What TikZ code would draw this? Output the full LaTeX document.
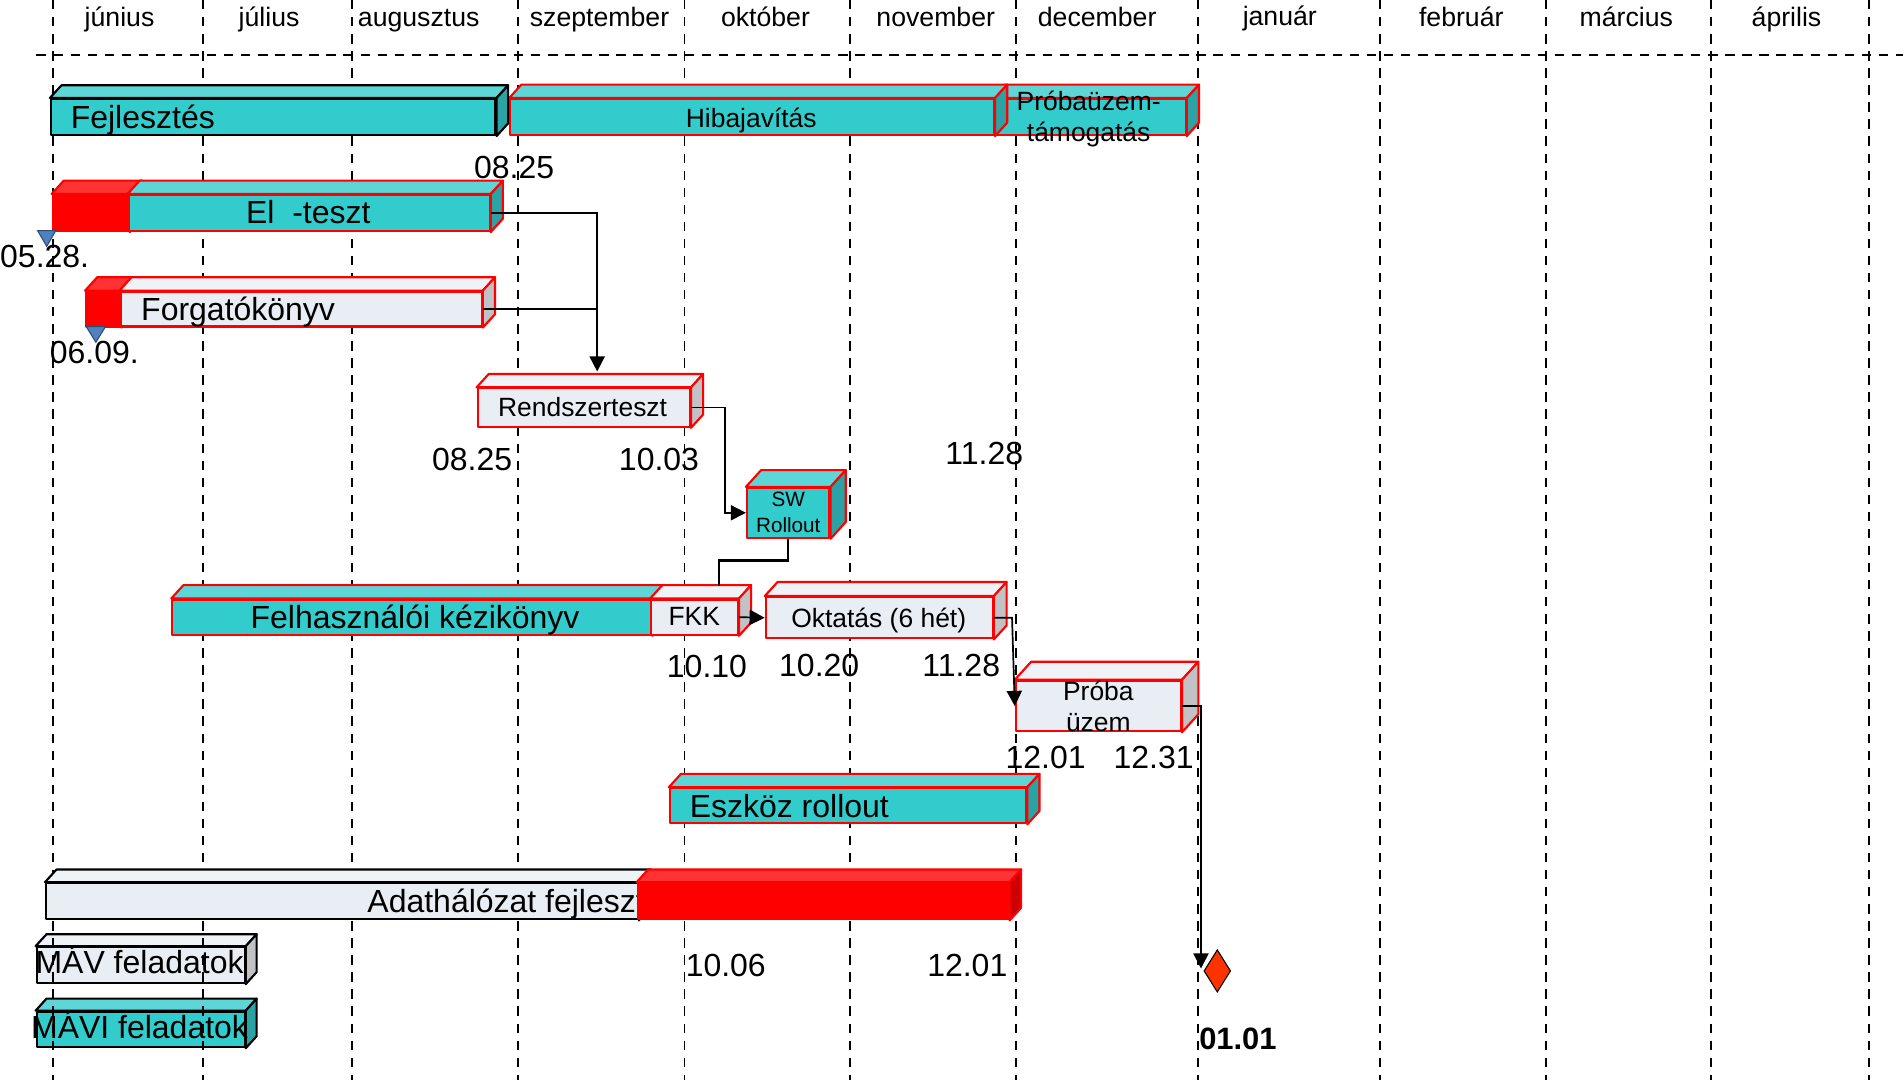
\documentclass[tikz,border=0pt]{standalone}
\usepackage{fontspec}
\setmainfont{Liberation Sans}
\usepackage{tikz}
\usetikzlibrary{calc,fit,arrows.meta,shapes.geometric}
\definecolor{tealF}{HTML}{33CCCC}
\definecolor{tealT}{HTML}{5CD6D6}
\definecolor{tealS}{HTML}{29A3A3}
\definecolor{lightF}{HTML}{E9EDF4}
\definecolor{lightT}{HTML}{EFF2F7}
\definecolor{lightS}{HTML}{C0C2C6}
\definecolor{redF}{HTML}{FF0000}
\definecolor{redT}{HTML}{FF3333}
\definecolor{redS}{HTML}{CC0000}
\definecolor{msred}{HTML}{FF3300}
\definecolor{mkblue}{HTML}{4F81BD}
\definecolor{mkline}{HTML}{2C4D75}
% name, front nw, front se, colour set, outline, depth
\newcommand{\ganttbox}[6]{%
  \node[box,fit={(#2)(#3)},inner sep=0pt,draw=#5,fill=#4F] (#1) {};
  \filldraw[box,draw=#5,fill=#4T] (#1.north west) -- ++(#6,-1.1*#6) -- ($(#1.north east)+(#6,-1.1*#6)$) -- (#1.north east) -- cycle;
  \filldraw[box,draw=#5,fill=#4S] (#1.north east) -- ++(#6,-1.1*#6) -- ($(#1.south east)+(#6,-1.1*#6)$) -- (#1.south east) -- cycle;}

\begin{document}
\begin{tikzpicture}[x=0.02cm,y=-0.02cm,
    box/.style={line width=1pt,line join=round},
    grid/.style={line width=0.9pt,dash pattern=on 4.4pt off 3.6pt},
    month/.style={font=\fontsize{12.5}{15}\selectfont,anchor=base,inner sep=0pt},
    big/.style={font=\fontsize{15}{18}\selectfont,anchor=base west,inner sep=0pt},
    mid/.style={font=\fontsize{12.4}{14.8}\selectfont,align=center,inner sep=0pt},
    small/.style={font=\fontsize{9.7}{12}\selectfont,align=center,inner sep=0pt},
    mav/.style={font=\fontsize{15}{18}\selectfont,anchor=base,inner sep=0pt},
    date/.style={font=\fontsize{15}{18}\selectfont,anchor=base,inner sep=0pt},
    link/.style={line width=0.8pt},
    conn/.style={line width=0.8pt,-{Triangle[length=0.25cm,width=0.25cm]}},
    marker/.style={fill=mkblue,draw=mkline,line width=0.5pt}]
  \useasboundingbox (0,0) rectangle (1568,890);
  \ganttbox{mav}{30.2,780.5}{201.6,810}{light}{black}{9}
  \node[mav] (mavT) at (115,802.4) {MÁV feladatok};
  \ganttbox{mavi}{30.2,833.6}{201.6,862.8}{teal}{black}{9}
  \node[mav] (maviT) at (115,855.8) {MÁVI feladatok};

  \foreach \x in {44,167,290,427,564,700,837,987,1137,1274,1410,1540}
    \draw[grid] (\x,0) -- (\x,890);
  \draw[grid] (30,45) -- (1568,45);
  \foreach \x/\y/\m in {98.5/22/június,221.7/22/július,345/22/augusztus,494/22/szeptember,630.7/22/október,771/22/november,904/22/december,1054.5/20.6/január,1204/22/február,1340/22/március,1472/22/április}
    \node[month] (m\x) at (\x,\y) {\m};

  \ganttbox{ptam}{819,81.6}{977,111.2}{teal}{red}{10}
  \ganttbox{hiba}{420.5,81.6}{819,111.2}{teal}{red}{10}
  \ganttbox{fejl}{42,81.6}{408.3,111.2}{teal}{black}{9.5}
  \ganttbox{eloR}{43.4,160.7}{106,190.3}{red}{red}{10}
  \ganttbox{elo}{106,160.7}{403.5,190.3}{teal}{red}{10}
  \ganttbox{forgR}{71,240.3}{99.3,269}{red}{red}{10}
  \ganttbox{forg}{99.3,240.3}{397,269}{light}{red}{10}
  \ganttbox{rend}{393.6,320}{568.5,351.6}{light}{red}{10}
  \ganttbox{swr}{615.5,402}{683.5,443}{teal}{red}{12.5}
  \ganttbox{fkez}{142,494}{536.6,523}{teal}{red}{10}
  \ganttbox{fkk}{536.6,494}{608,523}{light}{red}{10}
  \ganttbox{okt}{631,492}{818,526}{light}{red}{10.5}
  \ganttbox{proba}{837,561}{973,602.5}{light}{red}{13.5}
  \ganttbox{eszk}{552,649.5}{845.6,678.3}{teal}{red}{10}
  \ganttbox{adat}{38,727.7}{525.5,757.5}{light}{black}{9.5}
  \node[big] (adatT) at (302.4,751.7) {Adathálózat fejlesztés};
  \ganttbox{adatR}{525.5,727.7}{831,757.5}{red}{red}{9.5}

  \node[big] (fejlT) at (58,105.7) {Fejlesztés};
  \node[mid,anchor=base] (hibaT) at (619,104.7) {Hibajavítás};
  \node[mid] (ptamT) at (897,98) {Próbaüzem-\\támogatás};
  \node[big,anchor=base] (eloT) at (254,184.4) {El\phantom{ő}-teszt};
  \node[big] (forgT) at (116,263.7) {Forgatókönyv};
  \node[mid,anchor=base] (rendT) at (480,343.2) {Rendszerteszt};
  \node[small] (swrT) at (649.5,422) {SW\\Rollout};
  \node[big,anchor=base] (fkezT) at (342,517.7) {Felhasználói kézikönyv};
  \node[mid,anchor=base] (fkkT) at (572,515.2) {FKK};
  \node[mid,anchor=base] (oktT) at (724,517.2) {Oktatás (6 hét)};
  \node[mid] (probaT) at (905,582) {Próba\\üzem};
  \node[big] (eszkT) at (568,673.4) {Eszköz rollout};

  \node[diamond,draw=black,fill=msred,line width=0.5pt,minimum width=0.44cm,minimum height=0.7cm,inner sep=0pt] (ms) at (1003,800) {};

  \draw[conn] (elo.east) -| ($(rend.north)+(11,-13)$);
  \draw[link] (forg.east) -- ($(forg.east -| rend.north)+(11,0)$);
  \draw[conn] (rend.east) -- ++(28,0) |- (swr.west);
  \draw[link,line width=1.1pt] (swr.south) -- ++(0,18) -| ($(fkk.north)+(20,-10)$);
  \draw[conn] (fkk.east) -- (okt.west);
  \draw[conn] (okt.east) -- ++(15,0) -- (proba.west);
  \draw[conn] (proba.east) -| ($(ms.west)+(-2,-2)$);

  \filldraw[marker] (31,190) -- (46,190) -- (38.5,203) -- cycle;
  \filldraw[marker] (71,269) -- (87,269) -- (79,282) -- cycle;

  \foreach \n/\x/\y/\lab in {a/423.6/146.7/08.25,b/36.8/220.5/05.28.,c/77.7/299.3/06.09.,d/389/387.5/08.25,e/543/387.5/10.03,f/811/383/11.28,g/582.5/558/10.10,h/675/557.5/10.20,i/792/557.5/11.28,j/861.5/633/12.01,k/950.5/633/12.31,l/598/804.5/10.06,m/797/804.5/12.01}
    \node[date] (d\n) at (\x,\y) {\lab};
  \node[date,font=\fontsize{14.5}{17}\selectfont\bfseries] (d0101) at (1020,865) {01.01};
\end{tikzpicture}
\end{document}
